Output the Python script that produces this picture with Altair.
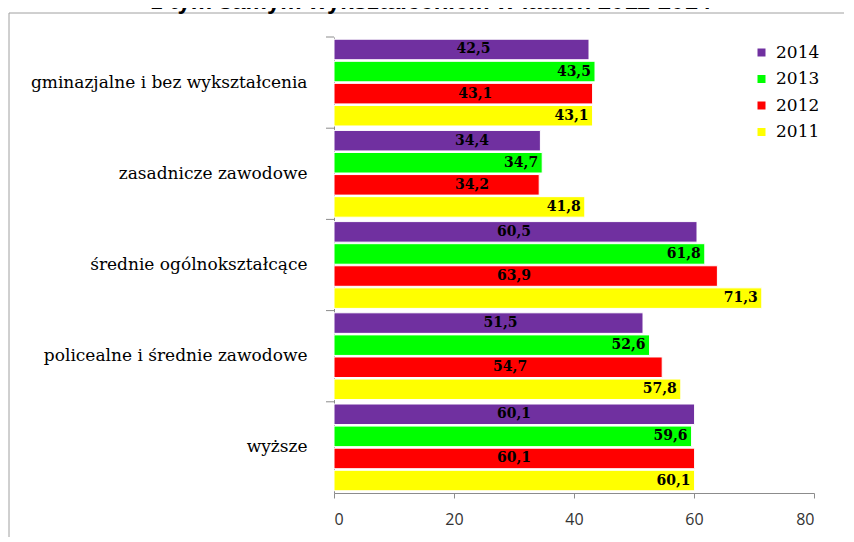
import altair as alt
import pandas as pd

categories = [
    "gminazjalne i bez wykształcenia",
    "zasadnicze zawodowe",
    "średnie ogólnokształcące",
    "policealne i średnie zawodowe",
    "wyższe",
]
years = ["2014", "2013", "2012", "2011"]
v2014 = [42.5, 34.4, 60.5, 51.5, 60.1]
v2013 = [43.5, 34.7, 61.8, 52.6, 59.6]
v2012 = [43.1, 34.2, 63.9, 54.7, 60.1]
v2011 = [43.1, 41.8, 71.3, 57.8, 60.1]
colors = ["#7030A0", "#00FF00", "#FF0000", "#FFFF00"]
title_text = "z tym samym wykształceniem w latach 2011-2014"

series = dict(zip(years, [v2014, v2013, v2012, v2011]))
rows = []
for y in years:
    for c, v in zip(categories, series[y]):
        rows.append({"cat": c, "year": y, "value": v,
                     "label": f"{v:.1f}".replace(".", ",")})
df = pd.DataFrame(rows)
cat_df = pd.DataFrame({"cat": categories})

W, H = 480, 456
SERIF = "DejaVu Serif"

y_enc = alt.Y("cat:N", sort=categories, title=None,
              scale=alt.Scale(domain=categories, paddingInner=0, paddingOuter=0),
              axis=alt.Axis(ticks=False, labelPadding=27, labelFont=SERIF,
                            labelFontSize=17, labelColor="#000000", domainColor="#8c8c8c",
                            labelLimit=400))
yoff = alt.YOffset("year:N", sort=years,
                   scale=alt.Scale(domain=years, paddingInner=0.07, paddingOuter=0.1))
x_enc = alt.X("value:Q", title=None,
              scale=alt.Scale(domain=[0, 80], nice=False),
              axis=alt.Axis(values=[0, 20, 40, 60, 80], grid=False, tickSize=5,
                            tickColor="#8c8c8c", domainColor="#8c8c8c",
                            labelFont="Open Sans", labelFontSize=16,
                            labelColor="#333333", labelPadding=13))

base = alt.Chart(df)

bars = base.mark_bar(stroke="#ffffff", strokeWidth=1).encode(
    y=y_enc, yOffset=yoff, x=x_enc,
    color=alt.Color("year:N", sort=years,
                    scale=alt.Scale(domain=years, range=colors),
                    legend=alt.Legend(title=None, orient="none", legendX=419, legendY=7,
                                      symbolType="square", symbolSize=64,
                                      symbolStrokeWidth=0, labelFont=SERIF,
                                      labelFontSize=17, labelColor="#000000",
                                      rowPadding=8.5, labelOffset=6)),
)

lab_font = dict(font=SERIF, fontSize=14, fontWeight="bold", color="#000000",
                baseline="middle")

labels_mid = base.transform_filter(
    "datum.year == '2014' || datum.year == '2012'"
).transform_calculate(
    lx="min(max(datum.value / 2 + 2, 23), 30)"
).mark_text(align="center", **lab_font).encode(
    y=alt.Y("cat:N", sort=categories), yOffset=yoff,
    x=alt.X("lx:Q"), text="label:N",
)

labels_end = base.transform_filter(
    "datum.year == '2013' || datum.year == '2011'"
).mark_text(align="right", dx=-4, **lab_font).encode(
    y=alt.Y("cat:N", sort=categories), yOffset=yoff,
    x=alt.X("value:Q"), text="label:N",
)

ticks = alt.Chart(cat_df).mark_rule(color="#8c8c8c").encode(
    y=alt.Y("cat:N", sort=categories, bandPosition=0),
    x=alt.value(-8), x2=alt.value(0),
)

frame = alt.Chart(cat_df.head(1)).mark_rect(
    fill=None, stroke="#a0a0a0", strokeWidth=1
).encode(
    x=alt.value(-325), x2=alt.value(700),
    y=alt.value(-24), y2=alt.value(700),
)

title = alt.Chart(cat_df.head(1)).mark_text(
    font="Liberation Sans", fontSize=24, fontWeight="bold", color="#000000",
    align="center", baseline="alphabetic"
).encode(
    x=alt.value(97), y=alt.value(-28), text=alt.value(title_text),
)

chart = alt.layer(frame, title, bars, labels_mid, labels_end, ticks).properties(
    width=W, height=H,
    autosize=alt.AutoSizeParams(type="none"),
    padding={"left": 326, "top": 29, "right": 30, "bottom": 44},
).configure_view(stroke=None)

chart.save("out.html", embed_options={"renderer": "svg", "actions": False})
